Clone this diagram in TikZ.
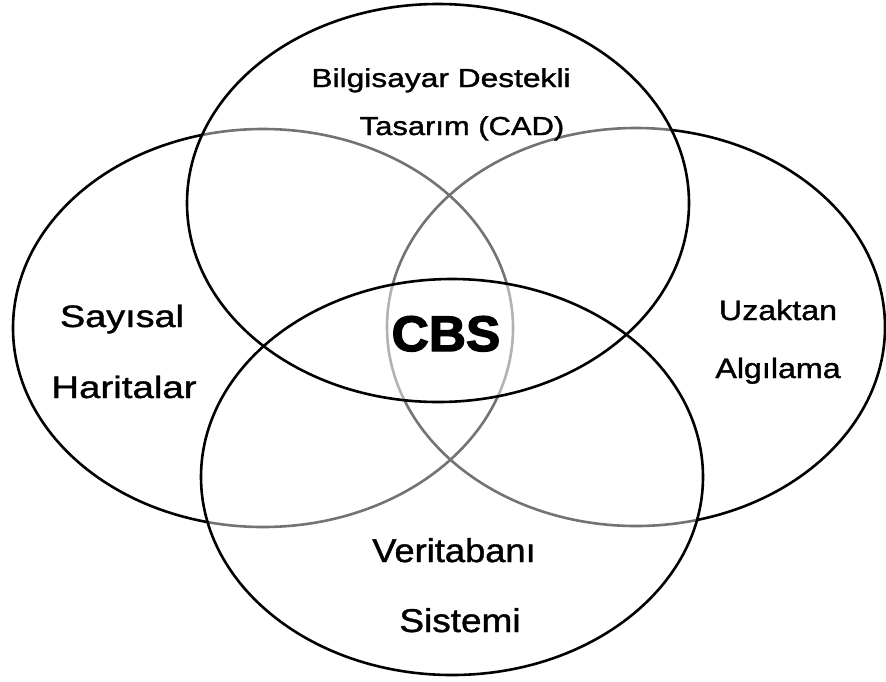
\documentclass[tikz,border=0pt]{standalone}
\usepackage{fontspec}
\setmainfont{Liberation Sans}
\newfontfamily\labelfont[FakeBold=1.2]{Liberation Sans}
\newfontfamily\heavyfont[FakeBold=2.6]{Liberation Sans Bold}
\begin{document}
\begin{tikzpicture}[x=1pt,y=1pt,
  ring/.style={line width=2.6pt, draw=black},
  veil/.style={fill=white, fill opacity=0.45},
  lbl/.style={anchor=base, inner sep=0pt}]
\useasboundingbox (0,0) rectangle (886,-681);
% side circles first, so the upper and lower ones soften their outlines
\draw[ring] (263,-328) ellipse [x radius=250, y radius=199];
\draw[ring] (636,-327) ellipse [x radius=249, y radius=199];
\path[veil] (438,-203) ellipse [x radius=251, y radius=199];
\path[veil] (452,-477) ellipse [x radius=251, y radius=198];
\draw[ring] (438,-203) ellipse [x radius=251, y radius=199];
\draw[ring] (452,-477) ellipse [x radius=251, y radius=198];
% labels
\node[lbl, xscale=1.22, font=\labelfont\fontsize{26}{30}\selectfont] (cad1) at (441,-87) {Bilgisayar Destekli};
\node[lbl, xscale=1.19, font=\labelfont\fontsize{26}{30}\selectfont] (cad2) at (462,-135) {Tasarım (CAD)};
\node[lbl, xscale=1.22, font=\labelfont\fontsize{31}{36}\selectfont] (say1) at (122,-327) {Sayısal};
\node[lbl, xscale=1.24, font=\labelfont\fontsize{31}{36}\selectfont] (say2) at (124,-398) {Haritalar};
\node[lbl, xscale=1.15, font=\labelfont\fontsize{28}{32}\selectfont] (uz1) at (778,-320) {Uzaktan};
\node[lbl, xscale=1.15, font=\labelfont\fontsize{28}{32}\selectfont] (uz2) at (778,-378) {Algılama};
\node[lbl, xscale=1.1, font=\labelfont\fontsize{33}{38}\selectfont] (vt1) at (454,-562) {Veritabanı};
\node[lbl, xscale=1.12, font=\labelfont\fontsize{33}{38}\selectfont] (vt2) at (460,-632) {Sistemi};
\node[lbl, xscale=1.03, font=\heavyfont\fontsize{50}{56}\selectfont] (cbs) at (446,-351) {CBS};
\end{tikzpicture}
\end{document}
